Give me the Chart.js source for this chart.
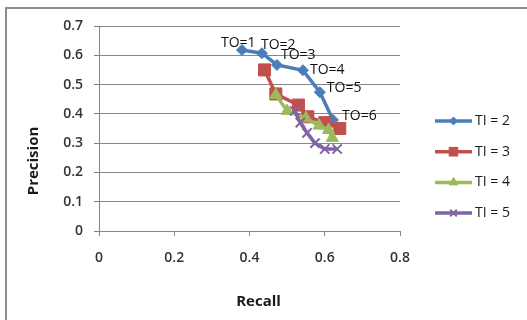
<!DOCTYPE html>
<html>
<head>
<meta charset="utf-8">
<script src="https://cdn.jsdelivr.net/npm/chart.js@4/dist/chart.umd.min.js"></script>
<style>
    html, body { margin: 0; padding: 0; background: #ffffff; }
    #wrap { position: relative; width: 527px; height: 320px; overflow: hidden; }
    #frame {
        position: absolute; left: 5px; top: 7px; width: 600px; height: 400px;
        border-left: 2px solid #8c8c8c; border-top: 2px solid #8c8c8c;
    }
    #chart { position: absolute; left: 0; top: 0; }
</style>
</head>
<body>
<div id="wrap">
    <div id="frame"></div>
    <canvas id="chart" width="527" height="320"></canvas>
</div>
<script>
// Recall (x) / Precision (y) for each TI setting, one point per TO value
const toLabels = ['TO=1', 'TO=2', 'TO=3', 'TO=4', 'TO=5', 'TO=6'];

const recallTI2 = [0.38, 0.433, 0.473, 0.542, 0.587, 0.622];
const precisionTI2 = [0.618, 0.607, 0.567, 0.549, 0.474, 0.379];

const recallTI3 = [0.44, 0.47, 0.53, 0.555, 0.60, 0.64];
const precisionTI3 = [0.55, 0.468, 0.43, 0.39, 0.37, 0.35];

const recallTI4 = [0.47, 0.50, 0.55, 0.585, 0.61, 0.62];
const precisionTI4 = [0.465, 0.41, 0.385, 0.36, 0.345, 0.318];

const recallTI5 = [0.52, 0.535, 0.553, 0.574, 0.60, 0.633];
const precisionTI5 = [0.41, 0.37, 0.335, 0.30, 0.28, 0.28];

const xTicks = [0, 0.2, 0.4, 0.6, 0.8];
const yTicks = [0, 0.1, 0.2, 0.3, 0.4, 0.5, 0.6, 0.7];

const FONT = "'Open Sans', 'Liberation Sans', sans-serif";

function toPoints(xs, ys) {
    return xs.map((x, i) => ({ x: x, y: ys[i] }));
}

// label placement relative to each blue point (dx to text left, dy to text middle)
const toLabelOffsets = [[-21, -7], [-1, -8], [4, -10], [7, 0], [7, -4], [9, -4]];

const overlayPlugin = {
    id: 'overlay',
    afterDatasetsDraw(chart) {
        const ctx = chart.ctx;
        const area = chart.chartArea;
        ctx.save();

        // TO=n labels on the TI = 2 series
        const meta = chart.getDatasetMeta(0);
        ctx.font = '14px ' + FONT;
        ctx.fillStyle = '#111111';
        ctx.textAlign = 'left';
        ctx.textBaseline = 'middle';
        meta.data.forEach((pt, i) => {
            const off = toLabelOffsets[i];
            ctx.fillText(toLabels[i], pt.x + off[0], pt.y + off[1]);
        });

        // axis titles
        ctx.font = 'bold 15px ' + FONT;
        ctx.fillStyle = '#1a1a1a';
        ctx.textAlign = 'center';
        ctx.fillText('Recall', area.left + (area.right - area.left) * 0.53, 302);
        ctx.translate(34, 161);
        ctx.rotate(-Math.PI / 2);
        ctx.fillText('Precision', 0, 0);
        ctx.restore();

        // legend: line with marker, then the label
        ctx.save();
        const legendX = 435, legendW = 37, legendY = 121, legendStep = 30.7;
        chart.data.datasets.forEach((ds, i) => {
            const y = legendY + i * legendStep;
            ctx.strokeStyle = ds.borderColor;
            ctx.lineWidth = ds.borderWidth;
            ctx.beginPath();
            ctx.moveTo(legendX, y);
            ctx.lineTo(legendX + legendW, y);
            ctx.stroke();
            ctx.fillStyle = ds.pointBackgroundColor;
            ctx.strokeStyle = ds.pointBorderColor;
            ctx.lineWidth = ds.pointBorderWidth;
            Chart.helpers.drawPoint(ctx, {
                pointStyle: ds.pointStyle,
                radius: ds.pointRadius * 0.72,
                borderWidth: ds.pointBorderWidth
            }, legendX + legendW / 2, y);
            ctx.fillStyle = '#1a1a1a';
            ctx.font = '14px ' + FONT;
            ctx.textAlign = 'left';
            ctx.textBaseline = 'middle';
            ctx.fillText(ds.label, legendX + legendW + 3, y);
        });
        ctx.restore();
    }
};

function series(label, xs, ys, color, style, radius, order) {
    return {
        label: label,
        data: toPoints(xs, ys),
        borderColor: color,
        backgroundColor: color,
        borderWidth: 3.5,
        pointStyle: style,
        pointRadius: radius,
        pointHoverRadius: radius,
        pointBackgroundColor: color,
        pointBorderColor: color,
        pointBorderWidth: style === 'crossRot' ? 2 : 1,
        tension: 0,
        showLine: true,
        order: order
    };
}

new Chart(document.getElementById('chart'), {
    type: 'scatter',
    data: {
        datasets: [
            series('TI = 2', recallTI2, precisionTI2, '#4a7ebb', 'rectRot', 5.5, 4),
            series('TI = 3', recallTI3, precisionTI3, '#c0504d', 'rect', 8.5, 3),
            series('TI = 4', recallTI4, precisionTI4, '#9bbb59', 'triangle', 7, 2),
            series('TI = 5', recallTI5, precisionTI5, '#8064a2', 'crossRot', 6.5, 1)
        ]
    },
    options: {
        responsive: false,
        animation: false,
        layout: { padding: { top: 26, right: 127, bottom: 0, left: 0 } },
        plugins: {
            legend: { display: false },
            tooltip: { enabled: false }
        },
        scales: {
            x: {
                type: 'linear',
                min: 0,
                max: 0.8,
                afterBuildTicks(scale) {
                    scale.ticks = xTicks.map(v => ({ value: v }));
                },
                afterFit(scale) { scale.height = 89; },
                grid: {
                    drawOnChartArea: false,
                    drawTicks: true,
                    tickLength: 5,
                    color: '#868686'
                },
                border: { color: '#868686', width: 1 },
                ticks: {
                    padding: 14,
                    color: '#333333',
                    font: { family: FONT, size: 14, weight: '600' },
                    maxRotation: 0,
                    callback: v => String(v)
                }
            },
            y: {
                type: 'linear',
                min: 0,
                max: 0.7,
                afterBuildTicks(scale) {
                    scale.ticks = yTicks.map(v => ({ value: v }));
                },
                afterFit(scale) { scale.width = 99; },
                grid: {
                    drawTicks: true,
                    tickLength: 5,
                    color: '#868686'
                },
                border: { color: '#868686', width: 1 },
                ticks: {
                    padding: 11,
                    color: '#333333',
                    font: { family: FONT, size: 14, weight: '600' },
                    callback: v => String(v)
                }
            }
        }
    },
    plugins: [overlayPlugin]
});
</script>
</body>
</html>
